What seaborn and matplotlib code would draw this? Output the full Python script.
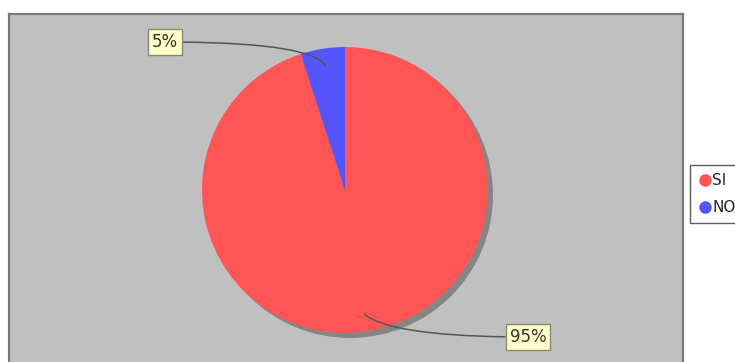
import numpy as np
import matplotlib
matplotlib.use("Agg")
import matplotlib.pyplot as plt
import seaborn as sns
from matplotlib.patches import Circle

# Survey answers
categories = ["SI", "NO"]
shares = [95, 5]
slice_labels = ["95%", "5%"]

sns.set_theme(style="white")
plt.rcParams["font.family"] = ["DejaVu Sans"]
colors = sns.color_palette(["#ff5555", "#5555ff"])

W, H = 735, 362
fig = plt.figure(figsize=(W / 100, H / 100), dpi=100)
fig.patch.set_facecolor("white")

# Plot area in pixel-like data units
left, right, top, bottom = 9, 683, 14, 375
ax = fig.add_axes([left / W, (H - bottom) / H, (right - left) / W, (bottom - top) / H])
ax.set_facecolor("#c0c0c0")

cx, cy, r = 345, H - 190, 143

# Drop shadow behind the pie
ax.add_patch(Circle((cx + 5, cy - 5), r, color="#858585", zorder=1, lw=0))

wedges, _ = ax.pie(shares, colors=colors, startangle=108, counterclock=True,
                   center=(cx, cy), radius=r, frame=True,
                   wedgeprops=dict(linewidth=0, zorder=2))
ax.set_xlim(left, right)
ax.set_ylim(H - bottom, H - top)
ax.set_xticks([])
ax.set_yticks([])
for s in ax.spines.values():
    s.set_color("#7a7a7a")
    s.set_linewidth(1.6)

# Labels in yellow boxes with curved leader lines
text_pos = {"95%": (528, H - 337), "5%": (165, H - 42)}
styles = {"95%": "angle3,angleA=0,angleB=-40", "5%": "angle3,angleA=0,angleB=-60"}
for w, lab in zip(wedges, slice_labels):
    mid = np.deg2rad((w.theta1 + w.theta2) / 2)
    px = cx + 0.88 * r * np.cos(mid)
    py = cy + 0.88 * r * np.sin(mid)
    ax.annotate(lab, xy=(px, py), xytext=text_pos[lab], ha="center", va="center",
                fontsize=12, color="#333333", zorder=5,
                bbox=dict(boxstyle="square,pad=0.25", fc="#ffffc8", ec="#8a8a70", lw=1),
                arrowprops=dict(arrowstyle="-", color="#555555", lw=1.1,
                                connectionstyle=styles[lab],
                                shrinkA=0, shrinkB=0))

# Legend to the right of the plot area
handles = [plt.Line2D([], [], marker="o", ls="", color=c, markersize=8) for c in colors]
leg = fig.legend(handles, categories, loc="upper left",
                 bbox_to_anchor=(690 / W, 1 - 165 / H), frameon=True,
                 borderaxespad=0, fontsize=11, handletextpad=0.1, borderpad=0.55,
                 labelspacing=0.75, handlelength=0.8, fancybox=False)
leg.get_frame().set_edgecolor("#333333")
leg.get_frame().set_linewidth(1)

fig.savefig("out.png", dpi=100)
